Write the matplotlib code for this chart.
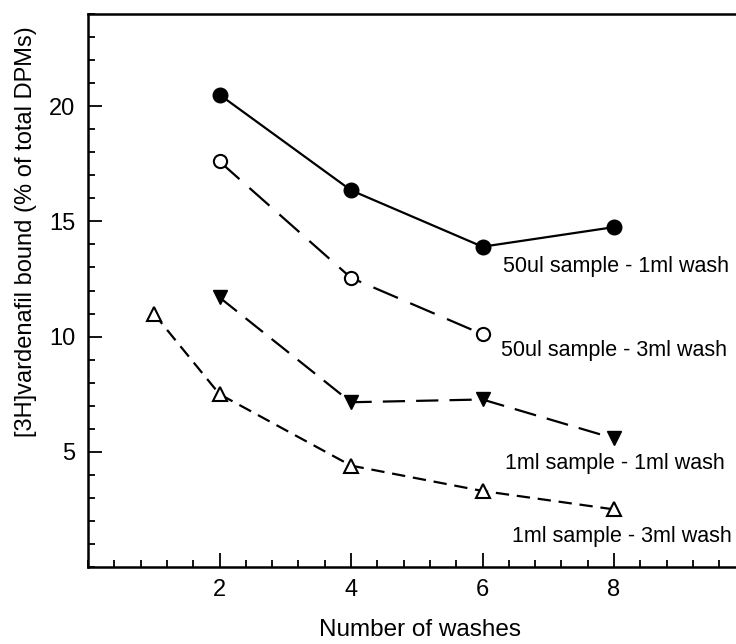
import matplotlib
matplotlib.use("Agg")
import matplotlib.pyplot as plt
from matplotlib.ticker import MultipleLocator

plt.rcParams['font.family'] = ['Liberation Sans', 'DejaVu Sans']

# Data
x_a = [2, 4, 6, 8]
y_a = [20.5, 16.35, 13.9, 14.75]          # 50ul sample - 1ml wash
x_b = [2, 4, 6]
y_b = [17.6, 12.55, 10.1]                 # 50ul sample - 3ml wash
x_c = [2, 4, 6, 8]
y_c = [11.7, 7.15, 7.27, 5.58]            # 1ml sample - 1ml wash
x_d = [1, 2, 4, 6, 8]
y_d = [11.0, 7.5, 4.4, 3.3, 2.5]          # 1ml sample - 3ml wash

labels = ["50ul sample - 1ml wash", "50ul sample - 3ml wash",
          "1ml sample - 1ml wash", "1ml sample - 3ml wash"]
label_x = [6.31, 6.28, 6.34, 6.45]
label_y = [13.03, 9.39, 4.50, 1.34]

fig = plt.figure(figsize=(7.36, 6.44), dpi=100)
ax = fig.add_axes([88/736, 77/644, 657.5/736, 553/644])

lw = 1.6
ax.plot(x_a, y_a, color='black', lw=lw, marker='o', markersize=10.5,
        markerfacecolor='black', markeredgecolor='black')
ax.plot(x_b, y_b, color='black', lw=lw, marker='o', markersize=9.5,
        markerfacecolor='white', markeredgecolor='black', markeredgewidth=1.5,
        dashes=(12, 6))
ax.plot(x_c, y_c, color='black', lw=lw, marker='v', markersize=10,
        markerfacecolor='black', markeredgecolor='black', dashes=(10, 5))
ax.plot(x_d, y_d, color='black', lw=lw, marker='^', markersize=9.5,
        markerfacecolor='white', markeredgecolor='black', markeredgewidth=1.5,
        dashes=(6, 3.5))

for t, lx, ly in zip(labels, label_x, label_y):
    ax.text(lx, ly, t, ha='left', va='center', fontsize=15.5)

ax.set_xlim(0, 10)
ax.set_ylim(0, 24)
ax.xaxis.set_minor_locator(MultipleLocator(0.4))
ax.yaxis.set_minor_locator(MultipleLocator(1))
ax.set_yticks([5, 10, 15, 20])
ax.set_xticks([2, 4, 6, 8])
ax.tick_params(which='both', direction='in', top=False, right=False, width=1.3)
ax.tick_params(which='major', length=10, labelsize=17)
ax.tick_params(axis='x', which='major', pad=9)
ax.tick_params(axis='y', which='major', pad=9)
ax.tick_params(which='minor', length=5)
for s in ax.spines.values():
    s.set_linewidth(1.8)

ax.set_xlabel("Number of washes", fontsize=17.5)
ax.xaxis.set_label_coords((420 - 88) / 657.5, (567 - 630) / 553)
ax.xaxis.label.set_va('center')
ax.set_ylabel("[3H]vardenafil bound (% of total DPMs)", fontsize=17)
ax.yaxis.set_label_coords((26 - 88) / 657.5, (567 - 232) / 553)
ax.yaxis.label.set_va('center')

fig.savefig("out.png", dpi=100)
